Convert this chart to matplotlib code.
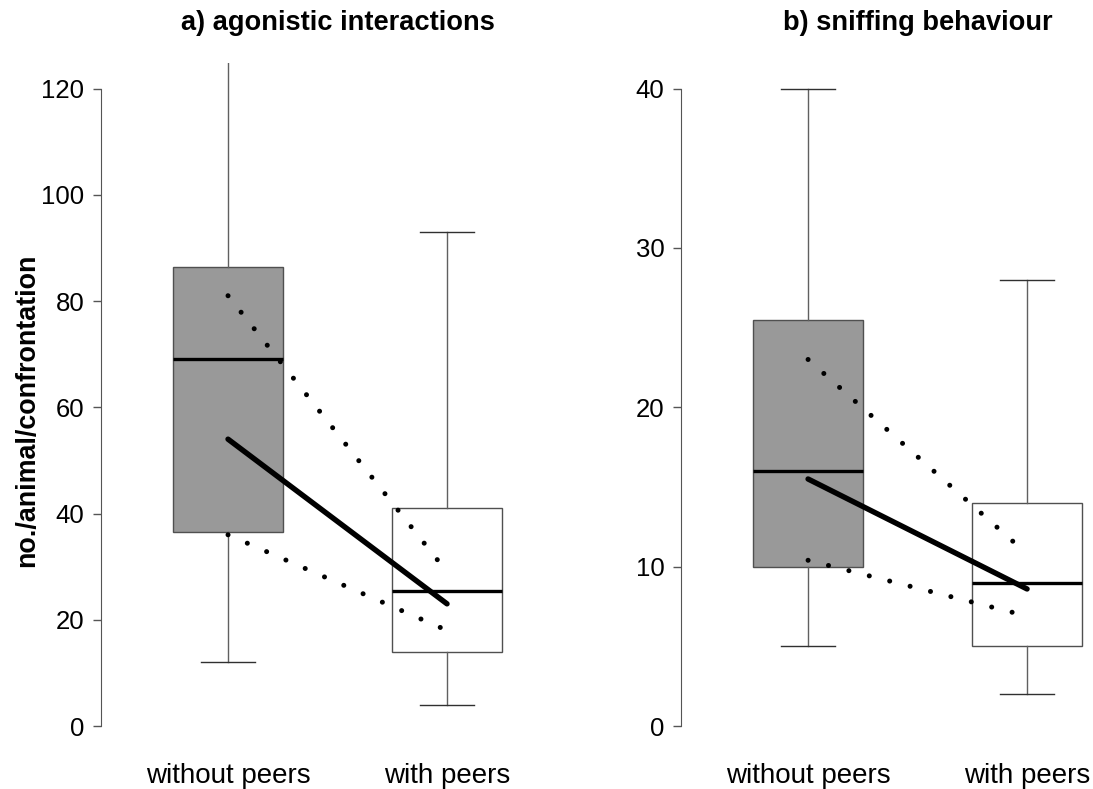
import matplotlib
matplotlib.use("Agg")
import matplotlib.pyplot as plt

plt.rcParams['font.family'] = ['Liberation Sans', 'DejaVu Sans']

groups = ["without peers", "with peers"]

# a) agonistic interactions: box summaries, mean and interval ends
agon_whislo = [12, 4]
agon_q1 = [36.5, 14]
agon_med = [69, 25.5]
agon_q3 = [86.5, 41]
agon_whishi = [131, 93]
agon_mean = [54, 23]
agon_ci_hi = [81, 29]
agon_ci_lo = [36, 18]

# b) sniffing behaviour
sniff_whislo = [5, 2]
sniff_q1 = [10, 5]
sniff_med = [16, 9]
sniff_q3 = [25.5, 14]
sniff_whishi = [40, 28]
sniff_mean = [15.5, 8.6]
sniff_ci_hi = [23, 10.8]
sniff_ci_lo = [10.4, 6.9]

box_fill = ["#999999", "white"]


def panel(ax, title, whislo, q1, med, q3, whishi, mean, ci_hi, ci_lo, ymax, step):
    stats = []
    for i in range(len(groups)):
        stats.append(dict(whislo=whislo[i], q1=q1[i], med=med[i], q3=q3[i],
                          whishi=whishi[i], fliers=[], label=groups[i]))
    x = [1, 2]
    bp = ax.bxp(stats, positions=x, widths=0.5, patch_artist=True,
                showfliers=False, capwidths=0.25,
                boxprops=dict(edgecolor="#505050", linewidth=1.0),
                whiskerprops=dict(color="#606060", linewidth=1.0),
                capprops=dict(color="#303030", linewidth=1.0),
                medianprops=dict(color="black", linewidth=2.4))
    for patch, c in zip(bp["boxes"], box_fill):
        patch.set_facecolor(c)

    # interval ends joined by dotted lines, means by a thick line
    for ci in (ci_hi, ci_lo):
        ax.plot(x, ci, color="black", linewidth=3.6,
                linestyle=(0, (0.01, 4.2)), dash_capstyle="round", zorder=5)
    ax.plot(x, mean, color="black", linewidth=3.9,
            solid_capstyle="round", zorder=6)

    pad = ymax * 0.04
    ax.set_ylim(-pad, ymax + pad)
    ax.set_xlim(0.42, 2.58)
    for s in ["top", "right", "bottom"]:
        ax.spines[s].set_visible(False)
    ax.spines["left"].set_bounds(0, ymax)
    ax.spines["left"].set_color("#555555")
    ax.set_yticks(range(0, ymax + 1, step))
    ax.tick_params(axis="y", length=6, width=1.0, color="#555555",
                   labelsize=18.5, pad=6)
    ax.tick_params(axis="x", length=0, labelsize=20, pad=8)
    ax.set_xticks(x)
    ax.set_xticklabels(groups)
    ax.set_title(title, fontsize=19.6, fontweight="bold", pad=24)


fig = plt.figure(figsize=(10.93, 7.89), dpi=100)
ax1 = fig.add_axes([0.0924, 0.0475, 0.4328, 0.8726])
ax2 = fig.add_axes([0.6231, 0.0475, 0.4328, 0.8726])

panel(ax1, "a) agonistic interactions", agon_whislo, agon_q1, agon_med, agon_q3,
      agon_whishi, agon_mean, agon_ci_hi, agon_ci_lo, 120, 20)
panel(ax2, "b) sniffing behaviour", sniff_whislo, sniff_q1, sniff_med, sniff_q3,
      sniff_whishi, sniff_mean, sniff_ci_hi, sniff_ci_lo, 40, 10)

fig.text(27 / 1093, 1 - 410 / 789, "no./animal/confrontation", rotation=90,
         ha="center", va="center", fontsize=19.4, fontweight="bold")

fig.savefig("out.png", dpi=100)
